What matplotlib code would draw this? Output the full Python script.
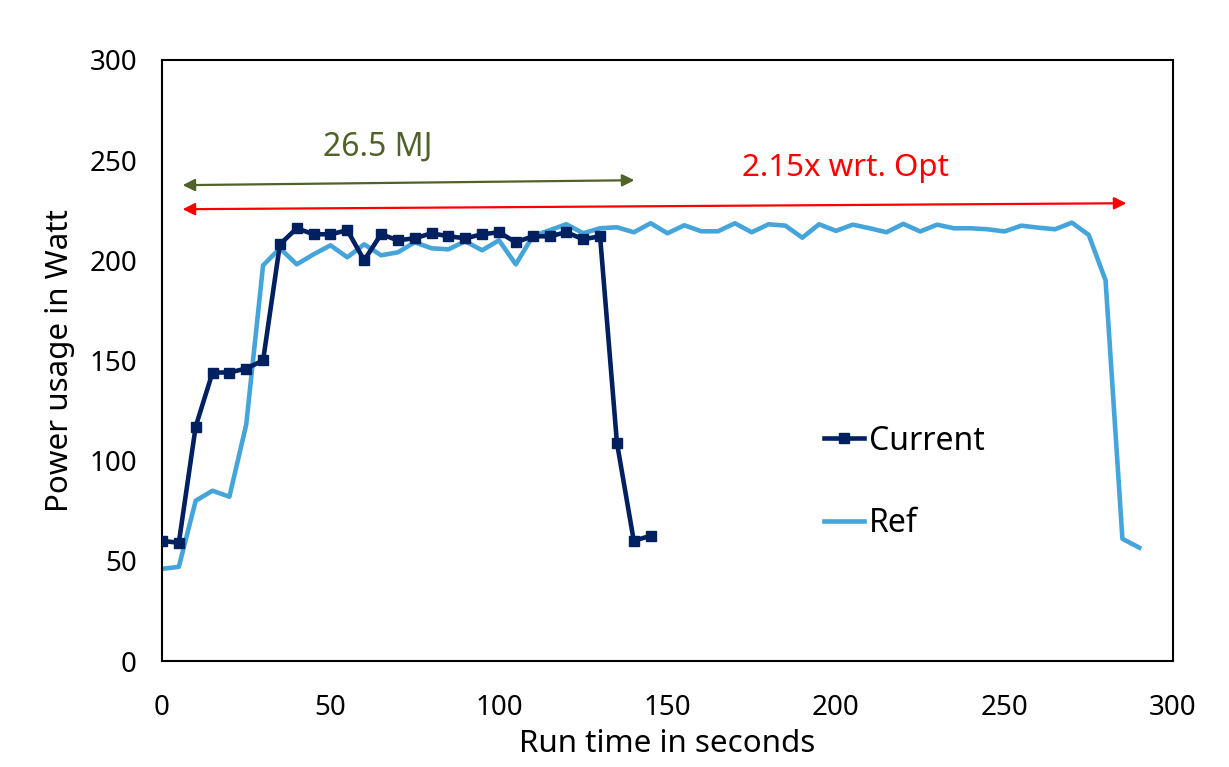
import matplotlib
matplotlib.use("Agg")
import matplotlib.pyplot as plt

plt.rcParams['font.family'] = ['Noto Sans', 'DejaVu Sans']

# run time samples (seconds)
t_current = list(range(0, 150, 5))
t_ref = list(range(0, 295, 5))

# power usage in Watt
current = [60, 59, 117, 144, 144, 146, 150, 208, 216, 213, 213, 215, 200, 213, 210, 211,
           213.5, 212, 211, 213, 214, 209, 212, 212, 214, 210.5, 212, 109, 60, 62.5]
ref = [46, 47, 80, 85, 82, 118, 197.5, 206, 198, 203, 207.5, 201.5, 208, 202.5, 204, 209,
       206, 205.5, 209.5, 205, 210, 198, 212, 215, 218, 213.5, 216, 216.5, 214, 218.5,
       213.5, 217.5, 214.5, 214.5, 218.5, 214, 218, 217.3, 211.3, 218, 214.7, 217.8, 216,
       214, 218.2, 214.4, 217.8, 216, 216, 215.5, 214.4, 217.3, 216.3, 215.5, 218.8, 212.7,
       190, 61, 56.6]

fig = plt.figure(figsize=(12.29, 7.67), dpi=100)
ax = fig.add_axes([0.1318, 0.1382, 0.8226, 0.7836])

ax.plot(t_current, current, color='#002060', lw=3.3, marker='s', ms=7, label='Current', zorder=3)
ax.plot(t_ref, ref, color='#45A5DA', lw=3.3, label='Ref', zorder=2)

# annotations
ax.annotate('', xy=(141, 240), xytext=(5.3, 237.5),
            arrowprops=dict(arrowstyle='<|-|>', color='#4F6228', lw=1.6, mutation_scale=18))
ax.text(64, 256.5, '26.5 MJ', color='#4F6228', fontsize=23, ha='center', va='center')
ax.annotate('', xy=(287, 228.5), xytext=(5.3, 225.5),
            arrowprops=dict(arrowstyle='<|-|>', color='#FF0000', lw=1.6, mutation_scale=18))
ax.text(202.8, 246, '2.15x wrt. Opt', color='#FF0000', fontsize=22.5, ha='center', va='center')

ax.set_xlim(0, 300)
ax.set_ylim(0, 300)
ax.set_xticks(range(0, 301, 50))
ax.set_yticks(range(0, 301, 50))
ax.tick_params(axis='both', length=0, labelsize=20)
ax.tick_params(axis='x', pad=23.5)
ax.tick_params(axis='y', pad=18)
for s in ax.spines.values():
    s.set_linewidth(1.5)
    s.set_color('black')

ax.set_xlabel('Run time in seconds', fontsize=22.5, labelpad=5)
ax.set_ylabel('Power usage in Watt', fontsize=22.5, labelpad=10)

ax.legend(loc='upper left', bbox_to_anchor=(0.639, 0.42), frameon=False, fontsize=23,
          handlelength=1.25, handletextpad=0.15, labelspacing=1.56, borderpad=0)

fig.savefig('out.png', dpi=100)
